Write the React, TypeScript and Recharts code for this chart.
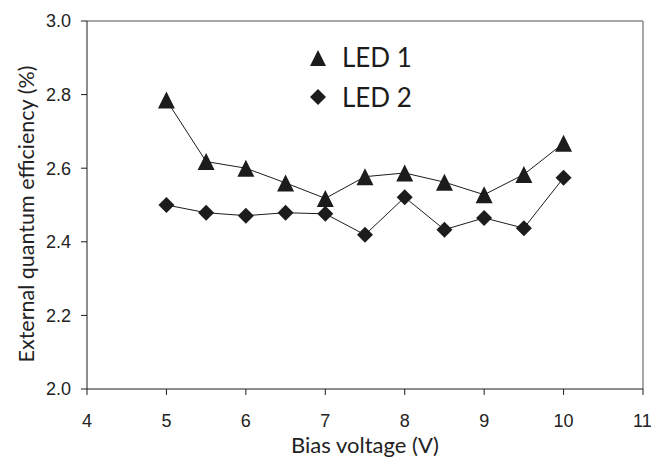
import React from "react";
import { Label, Legend, Line, LineChart, ReferenceLine, XAxis, YAxis } from "recharts";

// Bias voltage (V) and external quantum efficiency (%) per LED
const voltages = [5, 5.5, 6, 6.5, 7, 7.5, 8, 8.5, 9, 9.5, 10];
const led1 = [2.785, 2.618, 2.6, 2.56, 2.518, 2.577, 2.587, 2.562, 2.528, 2.583, 2.668];
const led2 = [2.5, 2.479, 2.471, 2.479, 2.476, 2.419, 2.521, 2.433, 2.465, 2.437, 2.574];
const xTicks = [4, 5, 6, 7, 8, 9, 10, 11];
const yTicks = [2.0, 2.2, 2.4, 2.6, 2.8, 3.0];

const data = voltages.map((v, i) => ({ v, led1: led1[i], led2: led2[i] }));

const INK = "#1c1c1c";
const TITLE_FONT = "Lato, 'Open Sans', sans-serif";
const TICK_FONT = "'Liberation Sans', Arial, sans-serif";

function Triangle({ cx, cy, size = 17 }: { cx?: number; cy?: number; size?: number }) {
  if (cx == null || cy == null) return null;
  const h = size / 2;
  return <polygon points={`${cx},${cy - h} ${cx + h},${cy + h} ${cx - h},${cy + h}`} fill={INK} />;
}

function Diamond({ cx, cy, size = 16 }: { cx?: number; cy?: number; size?: number }) {
  if (cx == null || cy == null) return null;
  const h = size / 2;
  return <polygon points={`${cx},${cy - h} ${cx + h},${cy} ${cx},${cy + h} ${cx - h},${cy}`} fill={INK} />;
}

function LegendBox({ payload }: { payload?: { value: string; dataKey?: string }[] }) {
  return (
    <div style={{ fontFamily: TITLE_FONT, fontSize: 26, color: INK, lineHeight: "40px" }}>
      {(payload ?? []).map((p) => (
        <div key={p.value} style={{ display: "flex", alignItems: "center" }}>
          <svg width={20} height={20} style={{ marginRight: 14 }}>
            {p.dataKey === "led1" ? <Triangle cx={10} cy={11} size={16} /> : <Diamond cx={10} cy={10} size={16} />}
          </svg>
          <span>{p.value}</span>
        </div>
      ))}
    </div>
  );
}

// rotated y title, placed a little below the plot's middle as in the original
function YTitle({ viewBox }: any) {
  if (!viewBox) return null;
  const x = 26;
  const y = viewBox.y + viewBox.height / 2 + 9;
  return (
    <text
      x={x}
      y={y}
      transform={`rotate(-90, ${x}, ${y})`}
      textAnchor="middle"
      dominantBaseline="central"
      fill="#222"
      fontSize={21.5}
      fontFamily={TITLE_FONT}
    >
      External quantum efficiency (%)
    </text>
  );
}

export default function App() {
  return (
    <div style={{ position: "absolute", left: 0, top: 0, width: 651, height: 457, background: "#fff" }}>
      <LineChart width={651} height={457} data={data} margin={{ top: 21, right: 8, bottom: 28, left: 0 }}>
        <XAxis
          dataKey="v"
          type="number"
          domain={[4, 11]}
          ticks={xTicks}
          stroke={INK}
          tickSize={6}
          tickMargin={19}
          height={40}
          tick={{ fill: "#222", fontSize: 18, fontFamily: TICK_FONT }}
          label={{ value: "Bias voltage (V)", position: "insideBottom", offset: -24, fill: "#222", fontSize: 22, fontFamily: TITLE_FONT }}
        />
        <YAxis
          type="number"
          domain={[2, 3]}
          ticks={yTicks}
          stroke={INK}
          tickSize={6}
          tickMargin={10}
          width={87}
          tickFormatter={(t: number) => t.toFixed(1)}
          tick={{ fill: "#222", fontSize: 18, fontFamily: TICK_FONT }}
        >
          <Label content={<YTitle />} />
        </YAxis>
        <ReferenceLine y={3} stroke="#8a8a8a" strokeWidth={1.5} />
        <ReferenceLine x={11} stroke="#8a8a8a" strokeWidth={1.5} />
        <Legend
          layout="vertical"
          align="center"
          verticalAlign="middle"
          content={<LegendBox />}
          wrapperStyle={{ position: "absolute", left: 308, top: 37, width: "auto", height: "auto" }}
        />
        <Line
          dataKey="led1"
          name="LED 1"
          stroke={INK}
          strokeWidth={1}
          dot={(props: any) => <Triangle key={`t${props.index}`} cx={props.cx} cy={props.cy} />}
          activeDot={false}
          isAnimationActive={false}
        />
        <Line
          dataKey="led2"
          name="LED 2"
          stroke={INK}
          strokeWidth={1}
          dot={(props: any) => <Diamond key={`d${props.index}`} cx={props.cx} cy={props.cy} />}
          activeDot={false}
          isAnimationActive={false}
        />
      </LineChart>
    </div>
  );
}
